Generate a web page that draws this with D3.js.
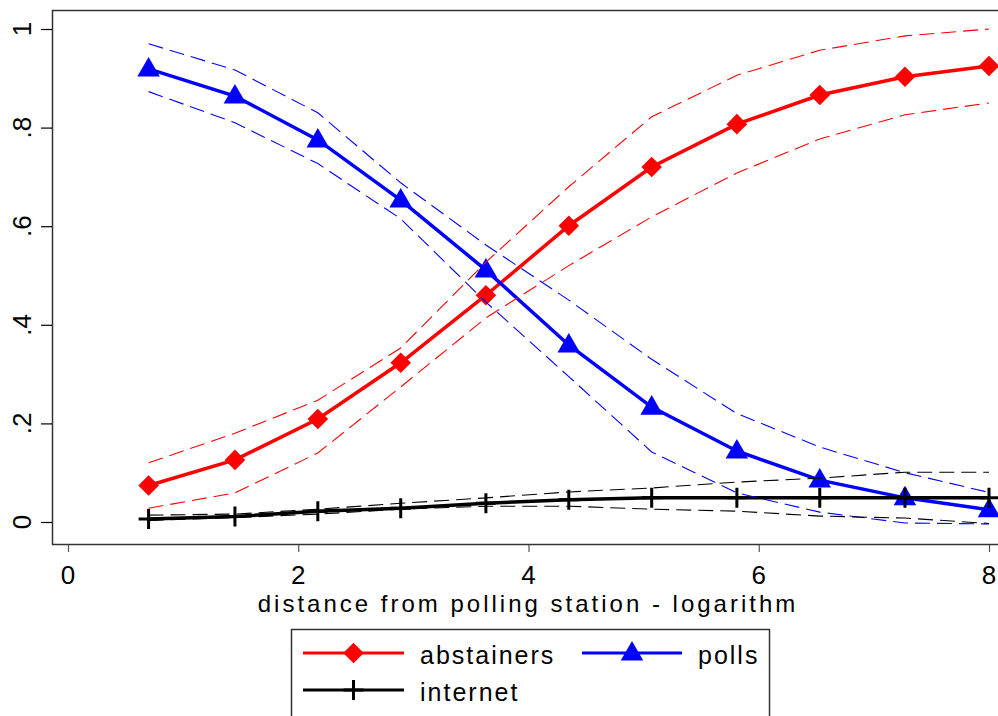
<!DOCTYPE html>
<meta charset="utf-8">
<script src="https://d3js.org/d3.v7.min.js"></script>
<style>
  body { margin: 0; background: #fff; }
  text { font-family: "Liberation Sans", Arial, sans-serif; fill: #000; }
</style>
<div id="chart"></div>
<script>
// data
var xVals = [0.70, 1.45, 2.17, 2.89, 3.63, 4.35, 5.07, 5.81, 6.53, 7.27, 8.00];

var abstainers   = [0.074, 0.126, 0.209, 0.323, 0.460, 0.601, 0.720, 0.807, 0.866, 0.903, 0.925];
var abstainersHi = [0.120, 0.180, 0.247, 0.353, 0.527, 0.680, 0.822, 0.906, 0.957, 0.986, 1.000];
var abstainersLo = [0.028, 0.059, 0.140, 0.274, 0.414, 0.520, 0.619, 0.708, 0.777, 0.826, 0.850];

var polls   = [0.919, 0.864, 0.775, 0.653, 0.511, 0.359, 0.233, 0.144, 0.085, 0.049, 0.025];
var pollsHi = [0.970, 0.917, 0.830, 0.688, 0.562, 0.450, 0.330, 0.220, 0.152, 0.100, 0.060];
var pollsLo = [0.873, 0.810, 0.727, 0.615, 0.446, 0.295, 0.142, 0.059, 0.020, -0.002, -0.004];

var internet   = [0.006, 0.011, 0.022, 0.028, 0.038, 0.045, 0.049, 0.049, 0.049, 0.049, 0.049];
var internetHi = [0.014, 0.016, 0.026, 0.038, 0.049, 0.061, 0.069, 0.081, 0.089, 0.101, 0.101];
var internetLo = [0.003, 0.009, 0.016, 0.026, 0.032, 0.032, 0.026, 0.022, 0.012, 0.008, -0.003];

var xTicks = [0, 2, 4, 6, 8];
var yTicks = [0, 0.2, 0.4, 0.6, 0.8, 1];
var yTickLabels = ["0", ".2", ".4", ".6", ".8", "1"];
var xTitle = "distance from polling station - logarithm";

var width = 998, height = 716;

var svg = d3.select("#chart")
  .append("svg")
    .attr("width", width)
    .attr("height", height);

var x = d3.scaleLinear().domain([0, 8]).range([68, 989]);
var y = d3.scaleLinear().domain([0, 1]).range([522, 29]);

// plot region frame
svg.append("rect")
  .attr("x", 52.5).attr("y", 10.5)
  .attr("width", 960).attr("height", 534)
  .attr("fill", "none")
  .attr("stroke", "#333")
  .attr("stroke-width", 1.5);

// y axis
var yAxis = svg.append("g")
  .attr("transform", "translate(52,0)")
  .call(d3.axisLeft(y).tickValues(yTicks).tickSize(11).tickFormat(""));
yAxis.select(".domain").remove();
yAxis.selectAll("line").attr("stroke", "#000").attr("stroke-width", 1.2);

svg.selectAll(".ylab")
  .data(yTicks)
  .enter()
  .append("text")
    .attr("class", "ylab")
    .attr("transform", function(d) { return "translate(31," + y(d) + ") rotate(-90)"; })
    .attr("text-anchor", "middle")
    .style("font-size", "26px")
    .text(function(d, i) { return yTickLabels[i]; });

// x axis
var xAxis = svg.append("g")
  .attr("transform", "translate(0,545)")
  .call(d3.axisBottom(x).tickValues(xTicks).tickSize(7).tickFormat(""));
xAxis.select(".domain").remove();
xAxis.selectAll("line").attr("stroke", "#555").attr("stroke-width", 1.2);

svg.selectAll(".xlab")
  .data(xTicks)
  .enter()
  .append("text")
    .attr("class", "xlab")
    .attr("x", function(d) { return x(d); })
    .attr("y", 584)
    .attr("text-anchor", "middle")
    .style("font-size", "26px")
    .text(function(d) { return d; });

svg.append("text")
  .attr("x", 528)
  .attr("y", 612)
  .attr("text-anchor", "middle")
  .style("font-size", "24px")
  .style("letter-spacing", "3px")
  .text(xTitle);

// series
var series = [
  {name: "abstainers", vals: abstainers, hi: abstainersHi, lo: abstainersLo, color: "#ff0000", shape: "diamond"},
  {name: "polls", vals: polls, hi: pollsHi, lo: pollsLo, color: "#0000ff", shape: "triangle"},
  {name: "internet", vals: internet, hi: internetHi, lo: internetLo, color: "#000000", shape: "plus"}
];

var line = d3.line()
  .x(function(d) { return x(d[0]); })
  .y(function(d) { return y(d[1]); });

function pairs(vals) {
  return xVals.map(function(v, i) { return [v, vals[i]]; });
}

var diamond = d3.symbol().type(d3.symbolDiamond2).size(270);
var triangle = d3.symbol().type(d3.symbolTriangle).size(220);

function drawMarker(g, shape, color, cx, cy) {
  if (shape === "diamond") {
    g.append("path")
      .attr("d", diamond())
      .attr("transform", "translate(" + cx + "," + cy + ")")
      .attr("fill", color);
  } else if (shape === "triangle") {
    g.append("path")
      .attr("d", triangle())
      .attr("transform", "translate(" + cx + "," + (cy + 1) + ")")
      .attr("fill", color);
  } else {
    g.append("path")
      .attr("d", "M" + (cx - 10) + "," + cy + "H" + (cx + 10) + "M" + cx + "," + (cy - 10) + "V" + (cy + 10))
      .attr("stroke", color)
      .attr("stroke-width", 3)
      .attr("fill", "none");
  }
}

series.forEach(function(s) {
  var g = svg.append("g");
  g.append("path")
    .datum(pairs(s.vals))
    .attr("d", line)
    .attr("fill", "none")
    .attr("stroke", s.color)
    .attr("stroke-width", 3.5);
  xVals.forEach(function(v, i) {
    drawMarker(g, s.shape, s.color, x(v), y(s.vals[i]));
  });
});

// confidence bands, dashed
series.forEach(function(s) {
  [s.hi, s.lo].forEach(function(b) {
    svg.append("path")
      .datum(pairs(b))
      .attr("d", line)
      .attr("fill", "none")
      .attr("stroke", s.color)
      .attr("stroke-width", 1.1)
      .attr("stroke-dasharray", "15,7");
  });
});

// legend
var legend = svg.append("g");
legend.append("rect")
  .attr("x", 291.5).attr("y", 629.5)
  .attr("width", 478).attr("height", 120)
  .attr("fill", "#fff")
  .attr("stroke", "#333")
  .attr("stroke-width", 1.5);

var legendItems = [
  {s: series[0], x0: 303, x1: 404, tx: 420, ly: 653},
  {s: series[1], x0: 582, x1: 682, tx: 698, ly: 653},
  {s: series[2], x0: 303, x1: 404, tx: 420, ly: 690}
];

legendItems.forEach(function(it) {
  legend.append("line")
    .attr("x1", it.x0).attr("x2", it.x1)
    .attr("y1", it.ly).attr("y2", it.ly)
    .attr("stroke", it.s.color)
    .attr("stroke-width", 3);
  drawMarker(legend, it.s.shape, it.s.color, (it.x0 + it.x1) / 2, it.ly);
  legend.append("text")
    .attr("x", it.tx)
    .attr("y", it.ly + 11)
    .style("font-size", "25px")
    .style("letter-spacing", "2px")
    .text(it.s.name);
});
</script>
